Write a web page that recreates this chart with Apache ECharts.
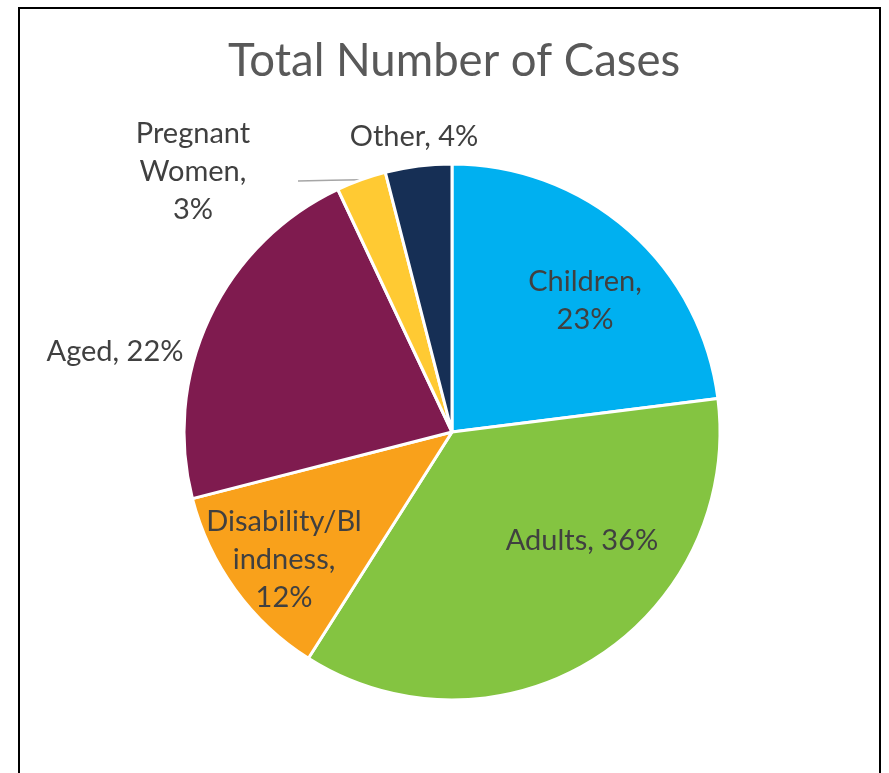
<!DOCTYPE html>
<html>
<head>
<meta charset="utf-8">
<script src="https://cdn.jsdelivr.net/npm/echarts@6/dist/echarts.min.js"></script>
<style>
html,body{margin:0;padding:0;background:#fff;}
#main{width:889px;height:773px;}
</style>
</head>
<body>
<div id="main"></div>
<script>
var categories = ["Children", "Adults", "Disability/Blindness", "Aged", "Pregnant Women", "Other"];
var values = [23, 36, 12, 22, 3, 4];
var labelTemplates = ["Children,\n{d}%", "Adults, {d}%", "Disability/Bl\nindness,\n{d}%", "Aged, {d}%", "Pregnant\nWomen,\n{d}%", "Other, {d}%"];
var colors = ["#00B0F0", "#84C441", "#F9A11B", "#7F1B4F", "#FFCA33", "#162F55"];

// label placement (layout only)
var center = [452, 432];
var radius = 268;
var labelPos = [[585, 301], [582, 541], [284, 560], [115, 352], [193, 172], [414, 137]];
var fontFamily = "Lato, 'Noto Sans', sans-serif";

function edgePoint(idx) {
  var total = values.reduce(function (a, b) { return a + b; }, 0);
  var cum = 0;
  for (var i = 0; i < idx; i++) cum += values[i];
  var mid = (cum + values[idx] / 2) / total * 2 * Math.PI;
  return [center[0] + radius * Math.sin(mid), center[1] - radius * Math.cos(mid)];
}

var chart = echarts.init(document.getElementById('main'));
var data = categories.map(function (c, i) {
  return {
    name: c,
    value: values[i],
    itemStyle: { color: colors[i] },
    label: { formatter: labelTemplates[i] },
    labelLine: { show: i === 4 }
  };
});

chart.setOption({
  animation: false,
  title: {
    text: 'Total Number of Cases',
    left: 223,
    top: 33,
    textStyle: { fontFamily: fontFamily, fontSize: 45.5, fontWeight: 'normal', color: '#595959' }
  },
  graphic: [{
    type: 'rect',
    shape: { x: 19, y: 8, width: 861, height: 800 },
    style: { fill: 'none', stroke: '#000', lineWidth: 2 },
    silent: true
  }],
  series: [{
    type: 'pie',
    center: center,
    radius: radius,
    startAngle: 90,
    clockwise: true,
    data: data,
    itemStyle: { borderColor: '#fff', borderWidth: 3 },
    label: {
      show: true,
      position: 'outside',
      fontFamily: fontFamily,
      fontSize: 29,
      lineHeight: 38,
      color: '#404040',
      align: 'center'
    },
    labelLine: {
      lineStyle: { color: '#A6A6A6', width: 1.5 }
    },
    labelLayout: function (params) {
      var i = params.dataIndex;
      var res = { x: labelPos[i][0], y: labelPos[i][1], align: 'center', verticalAlign: 'middle' };
      if (i === 4) {
        var e = edgePoint(i);
        res.labelLinePoints = [[e[0], e[1]], [e[0] - 30, e[1] + 0.5], [298, 181]];
      }
      return res;
    }
  }]
});
</script>
</body>
</html>
